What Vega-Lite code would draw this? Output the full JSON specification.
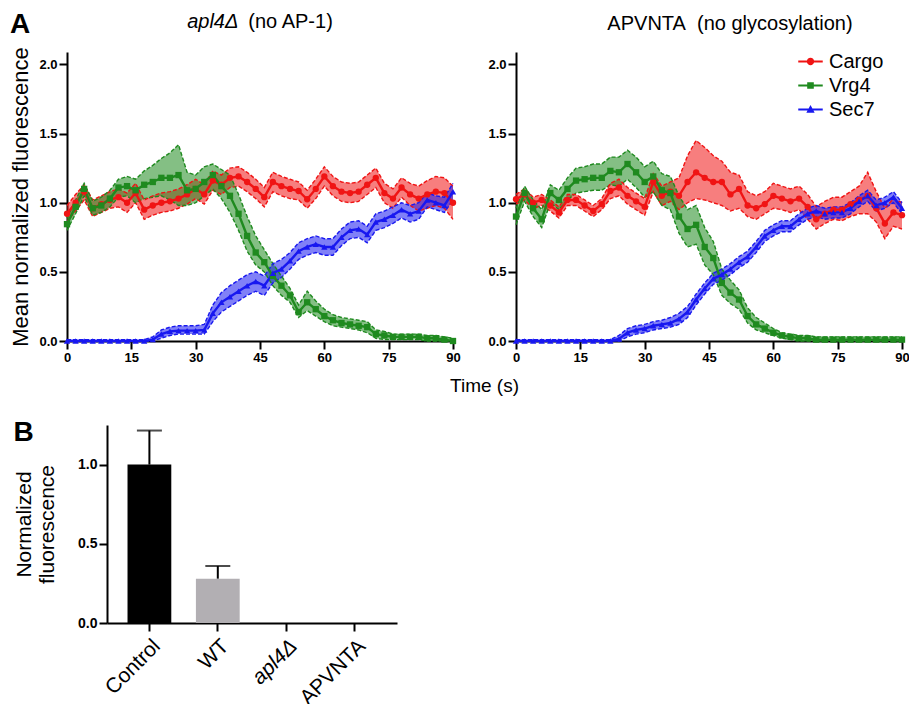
{
"$schema": "https://vega.github.io/schema/vega-lite/v6.json",
"background": "white",
"padding": {"left": 9, "top": 10, "right": 0, "bottom": 0},
"config": {
  "view": {"stroke": null},
  "font": "Liberation Sans",
  "axis": {"domainColor": "black", "domainWidth": 2, "tickColor": "black", "tickWidth": 2, "tickSize": 8, "labelFont": "Liberation Sans", "labelFontWeight": "bold", "labelFontSize": 13, "labelColor": "black", "labelPadding": 2, "grid": false, "titleFont": "Liberation Sans", "titleFontWeight": "normal", "titleColor": "black", "labelFlush": false},
  "title": {"color": "black", "font": "Liberation Sans", "subtitleColor": "black", "subtitleFont": "Liberation Sans"},
  "legend": {"labelFont": "Liberation Sans", "labelColor": "black"}
},
"datasets": {
"ts": [
{"p":"L","s":"Cargo","t":0,"m":0.92,"lo":0.86,"hi":0.98},
{"p":"L","s":"Cargo","t":2,"m":1.0,"lo":0.94,"hi":1.06},
{"p":"L","s":"Cargo","t":4,"m":1.08,"lo":1.02,"hi":1.13},
{"p":"L","s":"Cargo","t":6,"m":0.96,"lo":0.9,"hi":1.02},
{"p":"L","s":"Cargo","t":8,"m":0.99,"lo":0.93,"hi":1.05},
{"p":"L","s":"Cargo","t":10,"m":1.02,"lo":0.96,"hi":1.08},
{"p":"L","s":"Cargo","t":12,"m":1.04,"lo":0.97,"hi":1.1},
{"p":"L","s":"Cargo","t":14,"m":1.0,"lo":0.93,"hi":1.07},
{"p":"L","s":"Cargo","t":16,"m":1.07,"lo":1.0,"hi":1.14},
{"p":"L","s":"Cargo","t":18,"m":0.95,"lo":0.88,"hi":1.02},
{"p":"L","s":"Cargo","t":20,"m":0.98,"lo":0.91,"hi":1.05},
{"p":"L","s":"Cargo","t":22,"m":1.0,"lo":0.93,"hi":1.07},
{"p":"L","s":"Cargo","t":24,"m":1.01,"lo":0.94,"hi":1.08},
{"p":"L","s":"Cargo","t":26,"m":1.03,"lo":0.96,"hi":1.1},
{"p":"L","s":"Cargo","t":28,"m":1.06,"lo":0.99,"hi":1.13},
{"p":"L","s":"Cargo","t":30,"m":1.1,"lo":1.03,"hi":1.17},
{"p":"L","s":"Cargo","t":32,"m":1.06,"lo":0.99,"hi":1.13},
{"p":"L","s":"Cargo","t":34,"m":1.16,"lo":1.09,"hi":1.23},
{"p":"L","s":"Cargo","t":36,"m":1.13,"lo":1.06,"hi":1.2},
{"p":"L","s":"Cargo","t":38,"m":1.18,"lo":1.11,"hi":1.25},
{"p":"L","s":"Cargo","t":40,"m":1.19,"lo":1.12,"hi":1.26},
{"p":"L","s":"Cargo","t":42,"m":1.15,"lo":1.08,"hi":1.22},
{"p":"L","s":"Cargo","t":44,"m":1.1,"lo":1.03,"hi":1.17},
{"p":"L","s":"Cargo","t":46,"m":1.04,"lo":0.97,"hi":1.11},
{"p":"L","s":"Cargo","t":48,"m":1.15,"lo":1.08,"hi":1.22},
{"p":"L","s":"Cargo","t":50,"m":1.12,"lo":1.05,"hi":1.19},
{"p":"L","s":"Cargo","t":52,"m":1.1,"lo":1.03,"hi":1.17},
{"p":"L","s":"Cargo","t":54,"m":1.085,"lo":1.02,"hi":1.15},
{"p":"L","s":"Cargo","t":56,"m":1.025,"lo":0.96,"hi":1.09},
{"p":"L","s":"Cargo","t":58,"m":1.1,"lo":1.03,"hi":1.17},
{"p":"L","s":"Cargo","t":60,"m":1.19,"lo":1.12,"hi":1.26},
{"p":"L","s":"Cargo","t":62,"m":1.12,"lo":1.05,"hi":1.19},
{"p":"L","s":"Cargo","t":64,"m":1.08,"lo":1.01,"hi":1.15},
{"p":"L","s":"Cargo","t":66,"m":1.07,"lo":1.0,"hi":1.14},
{"p":"L","s":"Cargo","t":68,"m":1.08,"lo":1.01,"hi":1.15},
{"p":"L","s":"Cargo","t":70,"m":1.13,"lo":1.06,"hi":1.2},
{"p":"L","s":"Cargo","t":72,"m":1.18,"lo":1.11,"hi":1.25},
{"p":"L","s":"Cargo","t":74,"m":1.07,"lo":1.0,"hi":1.14},
{"p":"L","s":"Cargo","t":76,"m":1.03,"lo":0.96,"hi":1.1},
{"p":"L","s":"Cargo","t":78,"m":1.11,"lo":1.04,"hi":1.18},
{"p":"L","s":"Cargo","t":80,"m":1.06,"lo":0.98,"hi":1.14},
{"p":"L","s":"Cargo","t":82,"m":1.03,"lo":0.94,"hi":1.12},
{"p":"L","s":"Cargo","t":84,"m":1.06,"lo":0.96,"hi":1.16},
{"p":"L","s":"Cargo","t":86,"m":1.08,"lo":0.98,"hi":1.19},
{"p":"L","s":"Cargo","t":88,"m":1.07,"lo":0.96,"hi":1.18},
{"p":"L","s":"Cargo","t":90,"m":1.0,"lo":0.88,"hi":1.12},
{"p":"L","s":"Vrg4","t":0,"m":0.845,"lo":0.8,"hi":0.89},
{"p":"L","s":"Vrg4","t":2,"m":0.97,"lo":0.92,"hi":1.02},
{"p":"L","s":"Vrg4","t":4,"m":1.1,"lo":1.05,"hi":1.14},
{"p":"L","s":"Vrg4","t":6,"m":0.96,"lo":0.91,"hi":1.01},
{"p":"L","s":"Vrg4","t":8,"m":0.98,"lo":0.93,"hi":1.04},
{"p":"L","s":"Vrg4","t":10,"m":1.03,"lo":0.97,"hi":1.09},
{"p":"L","s":"Vrg4","t":12,"m":1.11,"lo":1.04,"hi":1.17},
{"p":"L","s":"Vrg4","t":14,"m":1.12,"lo":1.05,"hi":1.19},
{"p":"L","s":"Vrg4","t":16,"m":1.09,"lo":1.0,"hi":1.17},
{"p":"L","s":"Vrg4","t":18,"m":1.13,"lo":1.03,"hi":1.23},
{"p":"L","s":"Vrg4","t":20,"m":1.15,"lo":1.04,"hi":1.27},
{"p":"L","s":"Vrg4","t":22,"m":1.18,"lo":1.05,"hi":1.32},
{"p":"L","s":"Vrg4","t":24,"m":1.18,"lo":1.02,"hi":1.36},
{"p":"L","s":"Vrg4","t":26,"m":1.2,"lo":0.98,"hi":1.42},
{"p":"L","s":"Vrg4","t":28,"m":1.09,"lo":0.98,"hi":1.22},
{"p":"L","s":"Vrg4","t":30,"m":1.1,"lo":1.0,"hi":1.2},
{"p":"L","s":"Vrg4","t":32,"m":1.15,"lo":1.05,"hi":1.26},
{"p":"L","s":"Vrg4","t":34,"m":1.2,"lo":1.1,"hi":1.28},
{"p":"L","s":"Vrg4","t":36,"m":1.12,"lo":1.03,"hi":1.24},
{"p":"L","s":"Vrg4","t":38,"m":1.05,"lo":0.93,"hi":1.2},
{"p":"L","s":"Vrg4","t":40,"m":0.92,"lo":0.8,"hi":1.06},
{"p":"L","s":"Vrg4","t":42,"m":0.76,"lo":0.65,"hi":0.9},
{"p":"L","s":"Vrg4","t":44,"m":0.64,"lo":0.55,"hi":0.76},
{"p":"L","s":"Vrg4","t":46,"m":0.57,"lo":0.5,"hi":0.66},
{"p":"L","s":"Vrg4","t":48,"m":0.47,"lo":0.4,"hi":0.56},
{"p":"L","s":"Vrg4","t":50,"m":0.4,"lo":0.33,"hi":0.47},
{"p":"L","s":"Vrg4","t":52,"m":0.33,"lo":0.28,"hi":0.38},
{"p":"L","s":"Vrg4","t":54,"m":0.21,"lo":0.17,"hi":0.26},
{"p":"L","s":"Vrg4","t":56,"m":0.28,"lo":0.22,"hi":0.36},
{"p":"L","s":"Vrg4","t":58,"m":0.23,"lo":0.18,"hi":0.29},
{"p":"L","s":"Vrg4","t":60,"m":0.18,"lo":0.14,"hi":0.23},
{"p":"L","s":"Vrg4","t":62,"m":0.15,"lo":0.11,"hi":0.19},
{"p":"L","s":"Vrg4","t":64,"m":0.13,"lo":0.1,"hi":0.17},
{"p":"L","s":"Vrg4","t":66,"m":0.12,"lo":0.09,"hi":0.16},
{"p":"L","s":"Vrg4","t":68,"m":0.11,"lo":0.08,"hi":0.15},
{"p":"L","s":"Vrg4","t":70,"m":0.1,"lo":0.06,"hi":0.14},
{"p":"L","s":"Vrg4","t":72,"m":0.05,"lo":0.02,"hi":0.08},
{"p":"L","s":"Vrg4","t":74,"m":0.04,"lo":0.01,"hi":0.07},
{"p":"L","s":"Vrg4","t":76,"m":0.03,"lo":0.01,"hi":0.05},
{"p":"L","s":"Vrg4","t":78,"m":0.03,"lo":0.01,"hi":0.05},
{"p":"L","s":"Vrg4","t":80,"m":0.03,"lo":0.01,"hi":0.05},
{"p":"L","s":"Vrg4","t":82,"m":0.03,"lo":0.01,"hi":0.05},
{"p":"L","s":"Vrg4","t":84,"m":0.02,"lo":0.0,"hi":0.04},
{"p":"L","s":"Vrg4","t":86,"m":0.02,"lo":0.0,"hi":0.04},
{"p":"L","s":"Vrg4","t":88,"m":0.01,"lo":0.0,"hi":0.03},
{"p":"L","s":"Vrg4","t":90,"m":0.0,"lo":0.0,"hi":0.02},
{"p":"L","s":"Sec7","t":0,"m":0,"lo":0,"hi":0.01},
{"p":"L","s":"Sec7","t":2,"m":0,"lo":0,"hi":0.01},
{"p":"L","s":"Sec7","t":4,"m":0,"lo":0,"hi":0.01},
{"p":"L","s":"Sec7","t":6,"m":0,"lo":0,"hi":0.01},
{"p":"L","s":"Sec7","t":8,"m":0,"lo":0,"hi":0.01},
{"p":"L","s":"Sec7","t":10,"m":0,"lo":0,"hi":0.01},
{"p":"L","s":"Sec7","t":12,"m":0,"lo":0,"hi":0.01},
{"p":"L","s":"Sec7","t":14,"m":0,"lo":0,"hi":0.01},
{"p":"L","s":"Sec7","t":16,"m":0,"lo":0,"hi":0.01},
{"p":"L","s":"Sec7","t":18,"m":0,"lo":0,"hi":0.01},
{"p":"L","s":"Sec7","t":20,"m":0.01,"lo":0,"hi":0.03},
{"p":"L","s":"Sec7","t":22,"m":0.05,"lo":0.02,"hi":0.08},
{"p":"L","s":"Sec7","t":24,"m":0.07,"lo":0.04,"hi":0.1},
{"p":"L","s":"Sec7","t":26,"m":0.075,"lo":0.05,"hi":0.11},
{"p":"L","s":"Sec7","t":28,"m":0.075,"lo":0.05,"hi":0.11},
{"p":"L","s":"Sec7","t":30,"m":0.075,"lo":0.05,"hi":0.11},
{"p":"L","s":"Sec7","t":32,"m":0.08,"lo":0.05,"hi":0.12},
{"p":"L","s":"Sec7","t":34,"m":0.2,"lo":0.14,"hi":0.26},
{"p":"L","s":"Sec7","t":36,"m":0.28,"lo":0.21,"hi":0.35},
{"p":"L","s":"Sec7","t":38,"m":0.32,"lo":0.25,"hi":0.4},
{"p":"L","s":"Sec7","t":40,"m":0.36,"lo":0.29,"hi":0.44},
{"p":"L","s":"Sec7","t":42,"m":0.4,"lo":0.33,"hi":0.48},
{"p":"L","s":"Sec7","t":44,"m":0.43,"lo":0.36,"hi":0.5},
{"p":"L","s":"Sec7","t":46,"m":0.4,"lo":0.33,"hi":0.47},
{"p":"L","s":"Sec7","t":48,"m":0.49,"lo":0.42,"hi":0.56},
{"p":"L","s":"Sec7","t":50,"m":0.52,"lo":0.46,"hi":0.59},
{"p":"L","s":"Sec7","t":52,"m":0.58,"lo":0.52,"hi":0.64},
{"p":"L","s":"Sec7","t":54,"m":0.65,"lo":0.59,"hi":0.71},
{"p":"L","s":"Sec7","t":56,"m":0.68,"lo":0.62,"hi":0.74},
{"p":"L","s":"Sec7","t":58,"m":0.7,"lo":0.64,"hi":0.76},
{"p":"L","s":"Sec7","t":60,"m":0.68,"lo":0.62,"hi":0.74},
{"p":"L","s":"Sec7","t":62,"m":0.68,"lo":0.62,"hi":0.74},
{"p":"L","s":"Sec7","t":64,"m":0.75,"lo":0.69,"hi":0.81},
{"p":"L","s":"Sec7","t":66,"m":0.8,"lo":0.74,"hi":0.86},
{"p":"L","s":"Sec7","t":68,"m":0.81,"lo":0.75,"hi":0.87},
{"p":"L","s":"Sec7","t":70,"m":0.77,"lo":0.71,"hi":0.83},
{"p":"L","s":"Sec7","t":72,"m":0.86,"lo":0.8,"hi":0.92},
{"p":"L","s":"Sec7","t":74,"m":0.88,"lo":0.82,"hi":0.94},
{"p":"L","s":"Sec7","t":76,"m":0.91,"lo":0.85,"hi":0.97},
{"p":"L","s":"Sec7","t":78,"m":0.95,"lo":0.89,"hi":1.0},
{"p":"L","s":"Sec7","t":80,"m":0.92,"lo":0.86,"hi":0.98},
{"p":"L","s":"Sec7","t":82,"m":0.94,"lo":0.88,"hi":1.0},
{"p":"L","s":"Sec7","t":84,"m":1.02,"lo":0.97,"hi":1.07},
{"p":"L","s":"Sec7","t":86,"m":1.0,"lo":0.95,"hi":1.05},
{"p":"L","s":"Sec7","t":88,"m":0.98,"lo":0.93,"hi":1.04},
{"p":"L","s":"Sec7","t":90,"m":1.08,"lo":1.02,"hi":1.14},
{"p":"R","s":"Cargo","t":0,"m":1.025,"lo":0.99,"hi":1.06},
{"p":"R","s":"Cargo","t":2,"m":1.06,"lo":1.02,"hi":1.1},
{"p":"R","s":"Cargo","t":4,"m":1.0,"lo":0.96,"hi":1.04},
{"p":"R","s":"Cargo","t":6,"m":1.02,"lo":0.98,"hi":1.06},
{"p":"R","s":"Cargo","t":8,"m":0.98,"lo":0.94,"hi":1.02},
{"p":"R","s":"Cargo","t":10,"m":0.93,"lo":0.89,"hi":0.97},
{"p":"R","s":"Cargo","t":12,"m":1.02,"lo":0.98,"hi":1.06},
{"p":"R","s":"Cargo","t":14,"m":1.02,"lo":0.98,"hi":1.06},
{"p":"R","s":"Cargo","t":16,"m":0.98,"lo":0.94,"hi":1.02},
{"p":"R","s":"Cargo","t":18,"m":0.94,"lo":0.9,"hi":0.98},
{"p":"R","s":"Cargo","t":20,"m":0.99,"lo":0.95,"hi":1.03},
{"p":"R","s":"Cargo","t":22,"m":1.085,"lo":1.03,"hi":1.14},
{"p":"R","s":"Cargo","t":24,"m":1.11,"lo":1.05,"hi":1.17},
{"p":"R","s":"Cargo","t":26,"m":1.05,"lo":0.99,"hi":1.11},
{"p":"R","s":"Cargo","t":28,"m":1.01,"lo":0.95,"hi":1.07},
{"p":"R","s":"Cargo","t":30,"m":0.97,"lo":0.91,"hi":1.03},
{"p":"R","s":"Cargo","t":32,"m":1.15,"lo":1.08,"hi":1.21},
{"p":"R","s":"Cargo","t":34,"m":1.05,"lo":0.98,"hi":1.12},
{"p":"R","s":"Cargo","t":36,"m":1.08,"lo":1.01,"hi":1.15},
{"p":"R","s":"Cargo","t":38,"m":1.05,"lo":0.95,"hi":1.18},
{"p":"R","s":"Cargo","t":40,"m":1.15,"lo":1.0,"hi":1.34},
{"p":"R","s":"Cargo","t":42,"m":1.22,"lo":1.03,"hi":1.45},
{"p":"R","s":"Cargo","t":44,"m":1.18,"lo":1.02,"hi":1.4},
{"p":"R","s":"Cargo","t":46,"m":1.15,"lo":1.0,"hi":1.34},
{"p":"R","s":"Cargo","t":48,"m":1.15,"lo":0.98,"hi":1.3},
{"p":"R","s":"Cargo","t":50,"m":1.06,"lo":0.94,"hi":1.22},
{"p":"R","s":"Cargo","t":52,"m":1.1,"lo":0.96,"hi":1.2},
{"p":"R","s":"Cargo","t":54,"m":0.98,"lo":0.9,"hi":1.08},
{"p":"R","s":"Cargo","t":56,"m":0.96,"lo":0.88,"hi":1.05},
{"p":"R","s":"Cargo","t":58,"m":0.99,"lo":0.92,"hi":1.08},
{"p":"R","s":"Cargo","t":60,"m":1.05,"lo":0.96,"hi":1.14},
{"p":"R","s":"Cargo","t":62,"m":1.03,"lo":0.95,"hi":1.12},
{"p":"R","s":"Cargo","t":64,"m":1.01,"lo":0.93,"hi":1.1},
{"p":"R","s":"Cargo","t":66,"m":1.03,"lo":0.95,"hi":1.12},
{"p":"R","s":"Cargo","t":68,"m":0.97,"lo":0.88,"hi":1.06},
{"p":"R","s":"Cargo","t":70,"m":0.88,"lo":0.81,"hi":0.97},
{"p":"R","s":"Cargo","t":72,"m":0.92,"lo":0.85,"hi":1.01},
{"p":"R","s":"Cargo","t":74,"m":0.95,"lo":0.88,"hi":1.04},
{"p":"R","s":"Cargo","t":76,"m":0.95,"lo":0.87,"hi":1.04},
{"p":"R","s":"Cargo","t":78,"m":0.99,"lo":0.9,"hi":1.08},
{"p":"R","s":"Cargo","t":80,"m":1.02,"lo":0.92,"hi":1.12},
{"p":"R","s":"Cargo","t":82,"m":1.05,"lo":0.92,"hi":1.22},
{"p":"R","s":"Cargo","t":84,"m":0.96,"lo":0.86,"hi":1.08},
{"p":"R","s":"Cargo","t":86,"m":0.85,"lo":0.74,"hi":0.96},
{"p":"R","s":"Cargo","t":88,"m":0.93,"lo":0.83,"hi":1.03},
{"p":"R","s":"Cargo","t":90,"m":0.91,"lo":0.81,"hi":1.0},
{"p":"R","s":"Vrg4","t":0,"m":0.9,"lo":0.84,"hi":0.96},
{"p":"R","s":"Vrg4","t":2,"m":1.07,"lo":1.01,"hi":1.12},
{"p":"R","s":"Vrg4","t":4,"m":0.96,"lo":0.9,"hi":1.02},
{"p":"R","s":"Vrg4","t":6,"m":0.88,"lo":0.82,"hi":0.95},
{"p":"R","s":"Vrg4","t":8,"m":1.07,"lo":1.0,"hi":1.13},
{"p":"R","s":"Vrg4","t":10,"m":1.02,"lo":0.95,"hi":1.09},
{"p":"R","s":"Vrg4","t":12,"m":1.1,"lo":1.02,"hi":1.18},
{"p":"R","s":"Vrg4","t":14,"m":1.16,"lo":1.07,"hi":1.25},
{"p":"R","s":"Vrg4","t":16,"m":1.17,"lo":1.08,"hi":1.26},
{"p":"R","s":"Vrg4","t":18,"m":1.18,"lo":1.09,"hi":1.28},
{"p":"R","s":"Vrg4","t":20,"m":1.18,"lo":1.09,"hi":1.28},
{"p":"R","s":"Vrg4","t":22,"m":1.23,"lo":1.13,"hi":1.33},
{"p":"R","s":"Vrg4","t":24,"m":1.22,"lo":1.12,"hi":1.33},
{"p":"R","s":"Vrg4","t":26,"m":1.28,"lo":1.17,"hi":1.38},
{"p":"R","s":"Vrg4","t":28,"m":1.22,"lo":1.11,"hi":1.33},
{"p":"R","s":"Vrg4","t":30,"m":1.15,"lo":1.04,"hi":1.26},
{"p":"R","s":"Vrg4","t":32,"m":1.19,"lo":1.08,"hi":1.3},
{"p":"R","s":"Vrg4","t":34,"m":1.09,"lo":0.98,"hi":1.21},
{"p":"R","s":"Vrg4","t":36,"m":1.07,"lo":0.95,"hi":1.19},
{"p":"R","s":"Vrg4","t":38,"m":0.9,"lo":0.78,"hi":1.05},
{"p":"R","s":"Vrg4","t":40,"m":0.81,"lo":0.68,"hi":0.95},
{"p":"R","s":"Vrg4","t":42,"m":0.84,"lo":0.7,"hi":0.98},
{"p":"R","s":"Vrg4","t":44,"m":0.68,"lo":0.55,"hi":0.82},
{"p":"R","s":"Vrg4","t":46,"m":0.6,"lo":0.48,"hi":0.72},
{"p":"R","s":"Vrg4","t":48,"m":0.42,"lo":0.33,"hi":0.52},
{"p":"R","s":"Vrg4","t":50,"m":0.35,"lo":0.27,"hi":0.44},
{"p":"R","s":"Vrg4","t":52,"m":0.3,"lo":0.23,"hi":0.37},
{"p":"R","s":"Vrg4","t":54,"m":0.18,"lo":0.13,"hi":0.24},
{"p":"R","s":"Vrg4","t":56,"m":0.12,"lo":0.08,"hi":0.17},
{"p":"R","s":"Vrg4","t":58,"m":0.09,"lo":0.06,"hi":0.13},
{"p":"R","s":"Vrg4","t":60,"m":0.06,"lo":0.04,"hi":0.09},
{"p":"R","s":"Vrg4","t":62,"m":0.04,"lo":0.02,"hi":0.06},
{"p":"R","s":"Vrg4","t":64,"m":0.03,"lo":0.01,"hi":0.05},
{"p":"R","s":"Vrg4","t":66,"m":0.02,"lo":0.0,"hi":0.04},
{"p":"R","s":"Vrg4","t":68,"m":0.02,"lo":0.0,"hi":0.04},
{"p":"R","s":"Vrg4","t":70,"m":0.01,"lo":0.0,"hi":0.03},
{"p":"R","s":"Vrg4","t":72,"m":0.01,"lo":0.0,"hi":0.03},
{"p":"R","s":"Vrg4","t":74,"m":0.01,"lo":0.0,"hi":0.03},
{"p":"R","s":"Vrg4","t":76,"m":0.01,"lo":0.0,"hi":0.03},
{"p":"R","s":"Vrg4","t":78,"m":0.01,"lo":0.0,"hi":0.03},
{"p":"R","s":"Vrg4","t":80,"m":0.01,"lo":0.0,"hi":0.03},
{"p":"R","s":"Vrg4","t":82,"m":0.01,"lo":0.0,"hi":0.03},
{"p":"R","s":"Vrg4","t":84,"m":0.01,"lo":0.0,"hi":0.03},
{"p":"R","s":"Vrg4","t":86,"m":0.01,"lo":0.0,"hi":0.03},
{"p":"R","s":"Vrg4","t":88,"m":0.01,"lo":0.0,"hi":0.03},
{"p":"R","s":"Vrg4","t":90,"m":0.01,"lo":0.0,"hi":0.03},
{"p":"R","s":"Sec7","t":0,"m":0,"lo":0,"hi":0.01},
{"p":"R","s":"Sec7","t":2,"m":0,"lo":0,"hi":0.01},
{"p":"R","s":"Sec7","t":4,"m":0,"lo":0,"hi":0.01},
{"p":"R","s":"Sec7","t":6,"m":0,"lo":0,"hi":0.01},
{"p":"R","s":"Sec7","t":8,"m":0,"lo":0,"hi":0.01},
{"p":"R","s":"Sec7","t":10,"m":0,"lo":0,"hi":0.01},
{"p":"R","s":"Sec7","t":12,"m":0,"lo":0,"hi":0.01},
{"p":"R","s":"Sec7","t":14,"m":0,"lo":0,"hi":0.01},
{"p":"R","s":"Sec7","t":16,"m":0,"lo":0,"hi":0.01},
{"p":"R","s":"Sec7","t":18,"m":0,"lo":0,"hi":0.01},
{"p":"R","s":"Sec7","t":20,"m":0,"lo":0,"hi":0.01},
{"p":"R","s":"Sec7","t":22,"m":0,"lo":0,"hi":0.01},
{"p":"R","s":"Sec7","t":24,"m":0.015,"lo":0,"hi":0.04},
{"p":"R","s":"Sec7","t":26,"m":0.06,"lo":0.03,"hi":0.09},
{"p":"R","s":"Sec7","t":28,"m":0.08,"lo":0.05,"hi":0.11},
{"p":"R","s":"Sec7","t":30,"m":0.09,"lo":0.06,"hi":0.12},
{"p":"R","s":"Sec7","t":32,"m":0.11,"lo":0.08,"hi":0.14},
{"p":"R","s":"Sec7","t":34,"m":0.12,"lo":0.09,"hi":0.15},
{"p":"R","s":"Sec7","t":36,"m":0.13,"lo":0.1,"hi":0.17},
{"p":"R","s":"Sec7","t":38,"m":0.16,"lo":0.12,"hi":0.2},
{"p":"R","s":"Sec7","t":40,"m":0.21,"lo":0.17,"hi":0.25},
{"p":"R","s":"Sec7","t":42,"m":0.3,"lo":0.26,"hi":0.34},
{"p":"R","s":"Sec7","t":44,"m":0.38,"lo":0.34,"hi":0.42},
{"p":"R","s":"Sec7","t":46,"m":0.45,"lo":0.41,"hi":0.49},
{"p":"R","s":"Sec7","t":48,"m":0.48,"lo":0.44,"hi":0.52},
{"p":"R","s":"Sec7","t":50,"m":0.52,"lo":0.48,"hi":0.56},
{"p":"R","s":"Sec7","t":52,"m":0.57,"lo":0.53,"hi":0.61},
{"p":"R","s":"Sec7","t":54,"m":0.61,"lo":0.57,"hi":0.65},
{"p":"R","s":"Sec7","t":56,"m":0.68,"lo":0.64,"hi":0.72},
{"p":"R","s":"Sec7","t":58,"m":0.76,"lo":0.72,"hi":0.8},
{"p":"R","s":"Sec7","t":60,"m":0.8,"lo":0.76,"hi":0.84},
{"p":"R","s":"Sec7","t":62,"m":0.83,"lo":0.79,"hi":0.87},
{"p":"R","s":"Sec7","t":64,"m":0.83,"lo":0.79,"hi":0.87},
{"p":"R","s":"Sec7","t":66,"m":0.88,"lo":0.84,"hi":0.92},
{"p":"R","s":"Sec7","t":68,"m":0.92,"lo":0.88,"hi":0.96},
{"p":"R","s":"Sec7","t":70,"m":0.94,"lo":0.9,"hi":0.98},
{"p":"R","s":"Sec7","t":72,"m":0.92,"lo":0.88,"hi":0.96},
{"p":"R","s":"Sec7","t":74,"m":0.93,"lo":0.89,"hi":0.97},
{"p":"R","s":"Sec7","t":76,"m":0.93,"lo":0.89,"hi":0.97},
{"p":"R","s":"Sec7","t":78,"m":0.96,"lo":0.92,"hi":1.0},
{"p":"R","s":"Sec7","t":80,"m":1.01,"lo":0.97,"hi":1.05},
{"p":"R","s":"Sec7","t":82,"m":1.05,"lo":1.01,"hi":1.09},
{"p":"R","s":"Sec7","t":84,"m":0.98,"lo":0.94,"hi":1.02},
{"p":"R","s":"Sec7","t":86,"m":1.0,"lo":0.96,"hi":1.04},
{"p":"R","s":"Sec7","t":88,"m":1.04,"lo":1.0,"hi":1.08},
{"p":"R","s":"Sec7","t":90,"m":0.96,"lo":0.92,"hi":1.0}
],
"bars": [
{"g":"Control","v":1.0,"hi":1.215},
{"g":"WT","v":0.28,"hi":0.36},
{"g":"apl4Δ","v":0,"hi":null},
{"g":"APVNTA","v":0,"hi":null}
]
},
"concat": [
{
  "title": {"text": "A", "anchor": "start", "fontSize": 28, "fontWeight": "bold", "offset": -27},
  "hconcat": [
  {
    "width": 386, "height": 289,
    "title": {"text": "apl4Δ\u00a0\u00a0\u00a0\u00a0\u00a0\u00a0\u00a0\u00a0\u00a0\u00a0\u00a0\u00a0\u00a0\u00a0\u00a0\u00a0\u00a0\u200b", "subtitle": "\u200b\u00a0\u00a0\u00a0\u00a0\u00a0\u00a0\u00a0\u00a0\u00a0\u00a0\u00a0(no AP-1)", "fontStyle": "italic", "fontSize": 20, "fontWeight": "normal", "subtitleFontSize": 20, "subtitleFontStyle": "normal", "subtitleFontWeight": "normal", "subtitlePadding": -20, "offset": 15},
    "data": {"name": "ts"},
    "transform": [{"filter": "datum.p === 'L'"}],
    "encoding": {
      "x": {"field": "t", "type": "quantitative", "scale": {"domain": [0, 90], "nice": false}, "axis": {"values": [0, 15, 30, 45, 60, 75, 90], "title": "Time (s)", "titleX": 417, "titleAlign": "center", "titleFontSize": 19, "titlePadding": 12}},
      "color": {"field": "s", "type": "nominal", "scale": {"domain": ["Cargo", "Vrg4", "Sec7"], "range": ["#f01414", "#1f8a1f", "#1818f0"]}, "legend": null}
    },
    "layer": [
      {"mark": {"type": "area", "opacity": 0.55}, "encoding": {"y": {"field": "lo", "type": "quantitative", "title": "Mean normalized fluorescence", "scale": {"domain": [0, 2.09], "nice": false}, "axis": {"values": [0, 0.5, 1, 1.5, 2], "format": ".1f", "titleFontSize": 22, "titlePadding": 6}}, "y2": {"field": "hi"}}},
      {"mark": {"type": "line", "strokeDash": [4, 2], "strokeWidth": 1.4}, "encoding": {"y": {"field": "lo", "type": "quantitative", "title": "Mean normalized fluorescence"}}},
      {"mark": {"type": "line", "strokeDash": [4, 2], "strokeWidth": 1.4}, "encoding": {"y": {"field": "hi", "type": "quantitative", "title": "Mean normalized fluorescence"}}},
      {"mark": {"type": "line", "strokeWidth": 2.4}, "encoding": {"y": {"field": "m", "type": "quantitative", "title": "Mean normalized fluorescence"}}},
      {"mark": {"type": "point", "filled": true, "size": 40, "opacity": 1}, "encoding": {"y": {"field": "m", "type": "quantitative", "title": "Mean normalized fluorescence"}, "shape": {"field": "s", "type": "nominal", "scale": {"domain": ["Sec7", "Cargo", "Vrg4"], "range": ["triangle-up", "circle", "square"]}, "legend": null}}}
    ]
  },
  {
    "width": 386, "height": 289,
    "title": {"text": "APVNTA\u00a0\u00a0(no glycosylation)", "fontSize": 20, "fontWeight": "normal", "offset": 15, "dx": 21},
    "data": {"name": "ts"},
    "transform": [{"filter": "datum.p === 'R'"}],
    "encoding": {
      "x": {"field": "t", "type": "quantitative", "scale": {"domain": [0, 90], "nice": false}, "axis": {"values": [0, 15, 30, 45, 60, 75, 90], "title": null}},
      "color": {"field": "s", "type": "nominal", "scale": {"domain": ["Cargo", "Vrg4", "Sec7"], "range": ["#f01414", "#1f8a1f", "#1818f0"]},
        "legend": {"title": null, "orient": "none", "legendX": 282, "legendY": -3, "labelFontSize": 20, "symbolSize": 600, "rowPadding": 1, "labelOffset": 6, "symbolOpacity": 1, "symbolStrokeWidth": 0,
          "encode": {"symbols": {"update": {
            "shape": {"signal": "datum.value === 'Cargo' ? 'M-1,-0.09H1V0.09H-1Z M0.3,0A0.3,0.3,0,1,1,-0.3,0A0.3,0.3,0,1,1,0.3,0Z' : datum.value === 'Vrg4' ? 'M-1,-0.09H1V0.09H-1Z M-0.27,-0.27H0.27V0.27H-0.27Z' : 'M-1,-0.09H1V0.09H-1Z M0,-0.36L0.34,0.26H-0.34Z'"},
            "stroke": {"value": "transparent"}
          }}}}}
    },
    "layer": [
      {"mark": {"type": "area", "opacity": 0.55}, "encoding": {"y": {"field": "lo", "type": "quantitative", "title": null, "scale": {"domain": [0, 2.09], "nice": false}, "axis": {"values": [0, 0.5, 1, 1.5, 2], "format": ".1f"}}, "y2": {"field": "hi"}}},
      {"mark": {"type": "line", "strokeDash": [4, 2], "strokeWidth": 1.4}, "encoding": {"y": {"field": "lo", "type": "quantitative", "title": null}}},
      {"mark": {"type": "line", "strokeDash": [4, 2], "strokeWidth": 1.4}, "encoding": {"y": {"field": "hi", "type": "quantitative", "title": null}}},
      {"mark": {"type": "line", "strokeWidth": 2.4}, "encoding": {"y": {"field": "m", "type": "quantitative", "title": null}}},
      {"mark": {"type": "point", "filled": true, "size": 40, "opacity": 1}, "encoding": {"y": {"field": "m", "type": "quantitative", "title": null}, "shape": {"field": "s", "type": "nominal", "scale": {"domain": ["Sec7", "Cargo", "Vrg4"], "range": ["triangle-up", "circle", "square"]}, "legend": null}}}
    ]
  }
  ],
  "bounds": "flush",
  "spacing": 63,
  "resolve": {"scale": {"color": "independent", "shape": "independent"}, "legend": {"color": "independent", "shape": "independent"}}
},
{
  "width": 330, "height": 198,
  "title": {"text": "B", "anchor": "start", "fontSize": 28, "fontWeight": "bold", "offset": -22},
  "data": {"name": "bars"},
  "encoding": {
    "x": {"field": "g", "type": "nominal", "sort": ["Control", "WT", "apl4Δ", "APVNTA"], "scale": {"paddingInner": 0.36, "paddingOuter": 0.3, "range": [40, 330]},
      "axis": {"title": null, "labelAngle": -45, "labelFontSize": 21, "labelFontWeight": "normal", "labelPadding": 4,
        "labelFontStyle": {"condition": {"test": "datum.value === 'apl4Δ'", "value": "italic"}, "value": "normal"}}}
  },
  "layer": [
    {"mark": {"type": "bar"}, "encoding": {
      "y": {"field": "v", "type": "quantitative", "scale": {"domain": [0, 1.25], "nice": false}, "axis": {"values": [0, 0.5, 1], "format": ".1f", "title": ["Normalized", "fluorescence"], "titleFontSize": 21, "titleLineHeight": 23, "titlePadding": 20, "labelFontSize": 14, "offset": -40}},
      "color": {"field": "g", "type": "nominal", "scale": {"domain": ["Control", "WT", "apl4Δ", "APVNTA"], "range": ["#000000", "#b2afb3", "#ffffff", "#ffffff"]}, "legend": null}}},
    {"mark": {"type": "rule", "strokeWidth": 2, "color": "black"}, "transform": [{"filter": "datum.hi != null"}], "encoding": {
      "y": {"field": "v", "type": "quantitative"}, "y2": {"field": "hi"}}},
    {"mark": {"type": "tick", "thickness": 2, "size": 25, "color": "black"}, "transform": [{"filter": "datum.hi != null"}], "encoding": {
      "y": {"field": "hi", "type": "quantitative"}}}
  ]
}
],
"columns": 1,
"align": "none",
"spacing": 24,
"resolve": {"scale": {"color": "independent", "shape": "independent"}, "legend": {"color": "independent", "shape": "independent"}}
}
